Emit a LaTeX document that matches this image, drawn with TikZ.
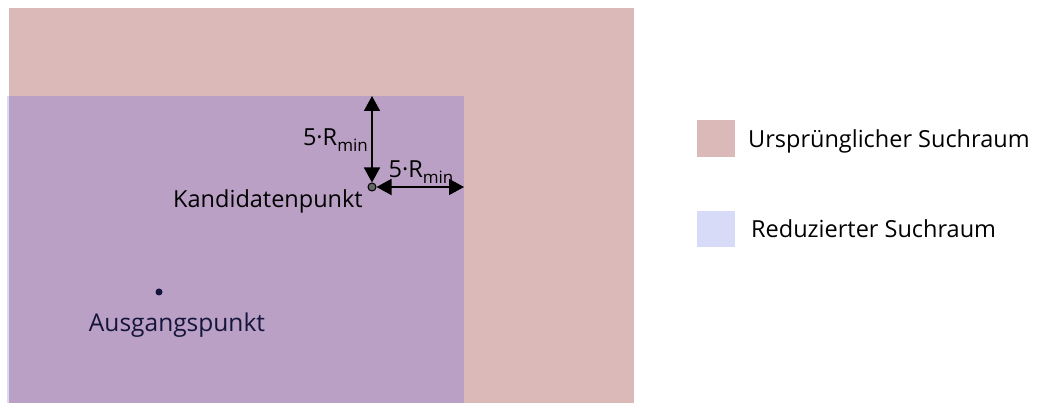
\documentclass[tikz,border=0pt]{standalone}
\usepackage{fontspec}
\setmainfont{Open Sans}
\usetikzlibrary{arrows.meta}
\definecolor{origfill}{HTML}{DBB9B8}
\definecolor{redfill}{HTML}{D8DBF8}
\definecolor{overlap}{HTML}{BAA0C4}
\definecolor{dotdark}{HTML}{14143C}
\newcommand{\rmin}{5·R\raisebox{-0.25em}{\fontsize{17}{18}\selectfont min}}
\tikzset{
  lbl/.style={font=\fontsize{23.5}{26}\selectfont, inner sep=0pt},
  legtxt/.style={font=\fontsize{23.5}{26}\selectfont, inner sep=0pt, anchor=west},
  dimarrow/.style={line width=1.6pt, {Triangle[length=15pt,width=16pt]}-{Triangle[length=15pt,width=16pt]}},
}
\begin{document}
\begin{tikzpicture}[x=1pt,y=-1pt]
\useasboundingbox (0,0) rectangle (1037,403);
% search areas
\fill[origfill] (9,8) rectangle (634,403);
\fill[redfill] (7,96) rectangle (9,403);
\fill[overlap] (9,96) rectangle (464,403);
% candidate point and distances
\coordinate (topedge) at (372,96);
\coordinate (rightedge) at (464,187);
\node[circle, draw=black, fill=black!60, line width=1pt, minimum size=8pt, inner sep=0pt] (cand) at (372,187) {};
\draw[dimarrow] (topedge) -- (cand.north);
\draw[dimarrow] (cand.east) -- (rightedge);
\node[lbl, anchor=east] (dimv) at (368,140) {\rmin};
\node[lbl] (dimh) at (421,172) {\rmin};
\node[lbl] (candlbl) at (268,201) {Kandidatenpunkt};
% start point
\node[circle, fill=dotdark, minimum size=7pt, inner sep=0pt] (start) at (159,292) {};
\node[lbl, text=dotdark, font=\fontsize{24.5}{27}\selectfont] (startlbl) at (177,325) {Ausgangspunkt};
% legend
\node[fill=origfill, minimum width=38pt, minimum height=37pt, inner sep=0pt] (legorig) at (716,138.5) {};
\node[legtxt] (legorigtxt) at (748,141) {Ursprünglicher Suchraum};
\node[fill=redfill, minimum width=38pt, minimum height=36pt, inner sep=0pt] (legred) at (716,229) {};
\node[legtxt] (legredtxt) at (751,229) {Reduzierter Suchraum};
\end{tikzpicture}
\end{document}
